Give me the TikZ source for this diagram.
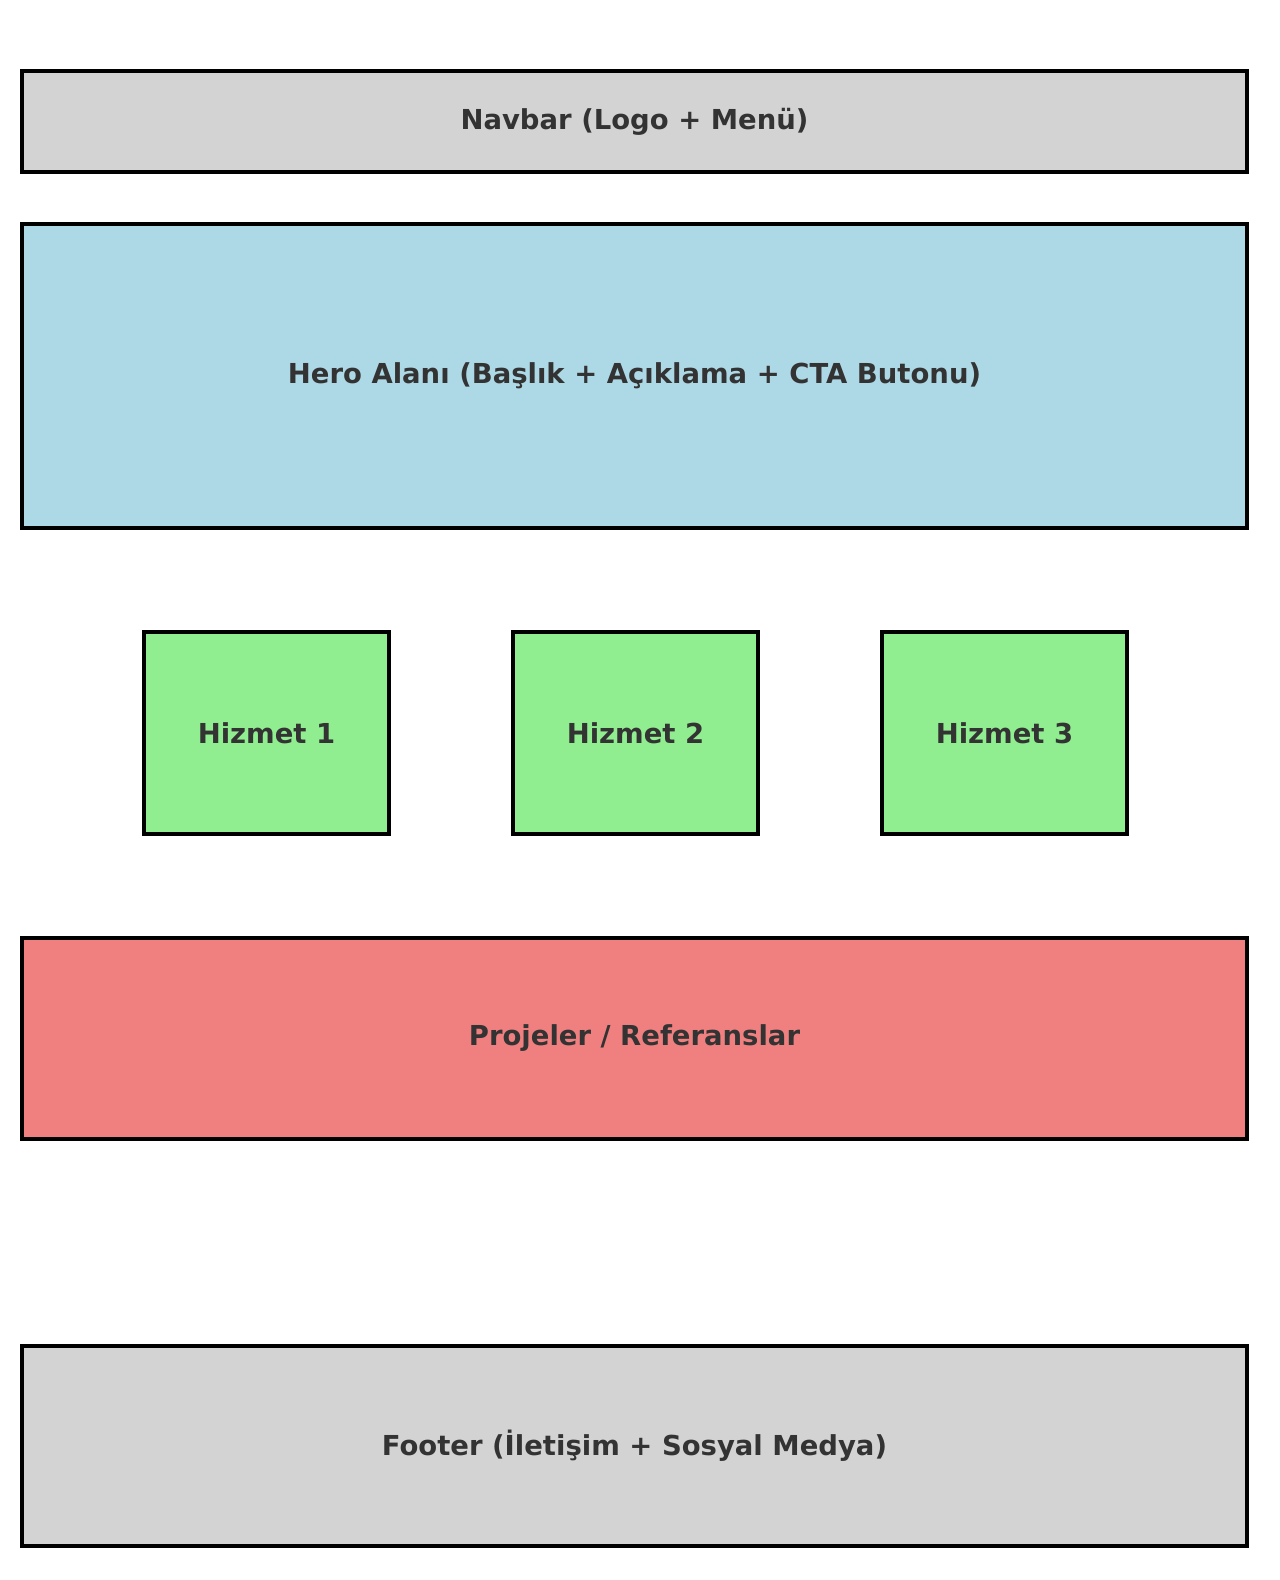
\documentclass[tikz,border=0pt]{standalone}
\usepackage{fontspec}
\setmainfont{DejaVu Sans}
\definecolor{txt}{HTML}{333333}
\definecolor{lgray}{HTML}{D3D3D3}
\definecolor{lblue}{HTML}{ADD8E6}
\definecolor{lgreen}{HTML}{90EE90}
\definecolor{lcoral}{HTML}{F08080}
\begin{document}
\begin{tikzpicture}[x=0.75pt,y=-0.75pt,
  block/.style={draw=black,line width=3.4pt,inner sep=0pt,outer sep=0pt},
  lbl/.style={text=txt,font=\fontsize{20.6}{25}\selectfont\bfseries}]
\useasboundingbox (0,0) rectangle (1280,1580);
\fill[white] (0,0) rectangle (1280,1580);
\draw[block,fill=lgray] (22,71) rectangle (1247,172) node[midway,lbl] (nav) {Navbar (Logo + Menü)};
\draw[block,fill=lblue] (22,224) rectangle (1247,528) node[midway,lbl] (hero) {Hero Alanı (Başlık + Açıklama + CTA Butonu)};
\draw[block,fill=lgreen] (144,632) rectangle (389,834) node[midway,lbl] (h1) {Hizmet 1};
\draw[block,fill=lgreen] (513,632) rectangle (758,834) node[midway,lbl] (h2) {Hizmet 2};
\draw[block,fill=lgreen] (882,632) rectangle (1127,834) node[midway,lbl] (h3) {Hizmet 3};
\draw[block,fill=lcoral] (22,938) rectangle (1247,1139) node[midway,lbl] (proj) {Projeler / Referanslar};
\draw[block,fill=lgray] (22,1346) rectangle (1247,1546) node[midway,lbl] (foot) {Footer (İletişim + Sosyal Medya)};
\end{tikzpicture}
\end{document}
